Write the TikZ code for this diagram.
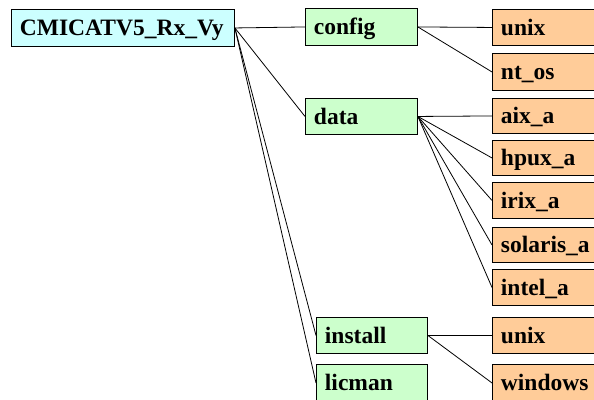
\documentclass[tikz,border=0pt]{standalone}
\usepackage{fontspec}
\setmainfont{Liberation Serif}
\definecolor{rootfill}{HTML}{CCFFFF}
\definecolor{midfill}{HTML}{CCFFCC}
\definecolor{leaffill}{HTML}{FFCC99}
\tikzset{
  box/.style={draw=black, line width=0.9pt, anchor=north west, inner xsep=8.5pt, inner ysep=0pt,
    text height=18pt, text depth=2pt,
    align=left, font=\fontsize{23.5}{25}\selectfont\bfseries},
  rootbox/.style={box, fill=rootfill},
  midbox/.style={box, fill=midfill},
  leafbox/.style={box, fill=leaffill},
  link/.style={draw=black, line width=0.8pt}
}
\newcommand{\mybox}[7]{% style, name, x, y, w, h, text
  \node[#1, text width=#5pt-17pt, minimum height=#6pt] (#2) at (#3pt,-#4pt) {#7};}
\begin{document}
\begin{tikzpicture}[x=1pt,y=1pt]
\useasboundingbox (0,0) rectangle (594,-399);
\clip (0,0) rectangle (594,-399);
\fill[white] (0,0) rectangle (594,-399);
\mybox{rootbox}{root}{11}{9}{223}{37}{CMICATV5\_Rx\_Vy}
\mybox{midbox}{config}{305}{8}{112}{37}{config}
\mybox{midbox}{data}{305}{98}{112}{36}{data}
\mybox{midbox}{install}{316}{317}{111}{36}{install}
\mybox{midbox}{licman}{316}{364}{111}{37}{licman}
\mybox{leafbox}{unixa}{492}{9}{112}{36}{unix}
\mybox{leafbox}{ntos}{492}{53}{112}{37}{nt\_os}
\mybox{leafbox}{aix}{492}{98}{112}{35}{aix\_a}
\mybox{leafbox}{hpux}{492}{140}{112}{35}{hpux\_a}
\mybox{leafbox}{irix}{492}{182}{112}{36}{irix\_a}
\mybox{leafbox}{solaris}{492}{227}{112}{35}{solaris\_a}
\mybox{leafbox}{intel}{492}{269}{112}{36}{intel\_a}
\mybox{leafbox}{unixb}{492}{317}{112}{36}{unix}
\mybox{leafbox}{windows}{492}{364}{112}{37}{windows}
\foreach \t in {config,data,install,licman} \draw[link] (root.east) -- (\t.west);
\foreach \t in {unixa,ntos} \draw[link] (config.east) -- (\t.west);
\foreach \t in {aix,hpux,irix,solaris,intel} \draw[link] (data.east) -- (\t.west);
\foreach \t in {unixb,windows} \draw[link] (install.east) -- (\t.west);
\end{tikzpicture}
\end{document}
